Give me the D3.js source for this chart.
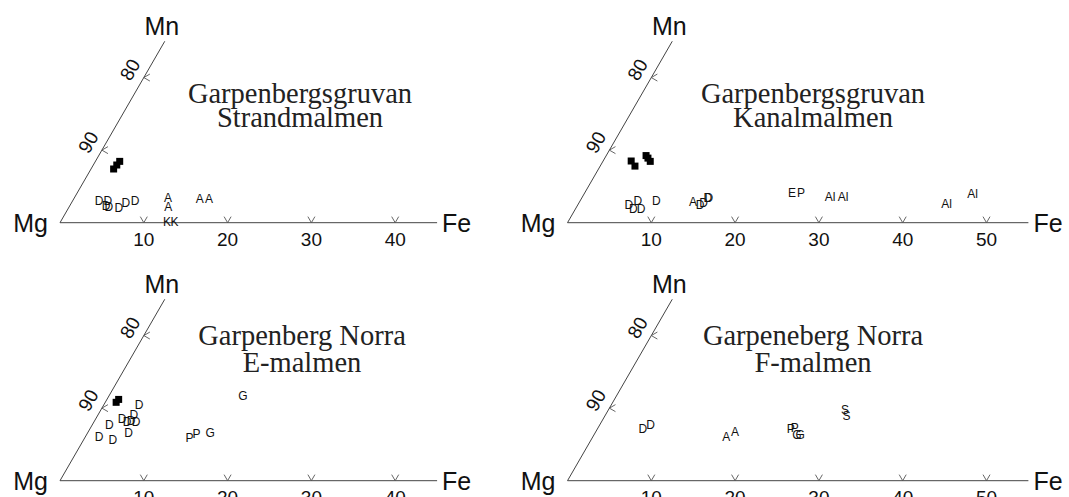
<!DOCTYPE html>
<html><head><meta charset="utf-8">
<script src="https://cdn.jsdelivr.net/npm/d3@7"></script>
<style>body{margin:0;background:#fff}svg{display:block}</style>
</head><body>
<script>
// ---- DATA ----
const titles1 = ["Garpenbergsgruvan","Garpenbergsgruvan","Garpenberg Norra","Garpeneberg Norra"];
const titles2 = ["Strandmalmen","Kanalmalmen","E-malmen","F-malmen"];
const feTicksA = [10,20,30,40];
const feTicksB = [10,20,30,40,50];
const mgTicks = [90,80];
const cornerLabels = ["Mg","Fe","Mn"];

// Strandmalmen
const strandSqFe = [2.7,2.8,2.9];
const strandSqMn = [7.4,7.95,8.45];
const strandMark = ["D","D","D","D","D","D","D","A","A","A","A","K","K"];
const strandFe   = [3.1,4.2,4.35,4.7,6.0,6.5,7.4,11.2,11.8,15.0,16.1,12.7,13.6];
const strandMn   = [3.1,3.0,2.3,2.25,2.05,2.7,3.1,3.4,2.25,3.35,3.35,0.15,0.15];

// Kanalmalmen
const kanalSqFe = [3.35,4.15,4.75,5.65,5.15];
const kanalSqMn = [8.5,7.8,9.25,8.45,8.9];
const kanalMark = ["D","D","D","D","D","A","D","D","D","D","E","P","Al","Al","Al","Al"];
const kanalFe   = [6.1,6.9,6.9,7.8,9.1,13.55,14.6,14.9,15.05,15.15,24.75,25.8,29.55,31.1,43.9,46.3];
const kanalMn   = [2.45,3.0,1.9,1.95,3.0,2.85,2.45,2.7,3.4,3.45,4.1,4.1,3.55,3.55,2.65,4.05];

// E-malmen
const eSqFe = [1.3,1.4];
const eSqMn = [10.8,11.2];
const eMark = ["D","D","D","D","D","D","D","D","D","D","P","P","G","G"];
const eFe   = [4.2,4.3,3.15,3.95,4.35,5.0,2.0,4.85,1.65,3.5,12.5,13.05,14.6,16.0];
const eMn   = [10.5,9.05,8.5,8.1,8.25,8.15,7.75,6.65,6.0,5.6,5.9,6.5,6.65,11.65];

// F-malmen
const fSqFe = [];
const fSqMn = [];
const fMark = ["D","D","A","A","P","P","G","G","S","S"];
const fFe   = [5.4,6.05,15.9,16.6,23.1,23.5,24.2,24.6,28.25,28.8];
const fMn   = [7.2,7.7,6.1,6.8,7.1,7.25,6.35,6.35,9.75,9.0];

// ---- LAYOUT ----
const unit = 8.38; // px per percent
const SIN60 = Math.sqrt(3)/2;
const panels = [
  {ox:60,   oy:222.7, feMax:45, ticks:feTicksA, t:[300,103,127], sqFe:strandSqFe, sqMn:strandSqMn, mark:strandMark, fe:strandFe, mn:strandMn},
  {ox:567.5,oy:222.7, feMax:55, ticks:feTicksB, t:[813,103,127], sqFe:kanalSqFe, sqMn:kanalSqMn, mark:kanalMark, fe:kanalFe, mn:kanalMn},
  {ox:60,   oy:480.7, feMax:45, ticks:feTicksA, t:[302,345,372], sqFe:eSqFe, sqMn:eSqMn, mark:eMark, fe:eFe, mn:eMn},
  {ox:567.5,oy:480.7, feMax:55, ticks:feTicksB, t:[813,345,372], sqFe:fSqFe, sqMn:fSqMn, mark:fMark, fe:fFe, mn:fMn}
];
const mnEdge = 25;

const svg = d3.select("body").append("svg").attr("width",1069).attr("height",497);

panels.forEach((p,i)=>{
  const xs = d3.scaleLinear().domain([0,p.feMax]).range([p.ox, p.ox + p.feMax*unit]);
  const ys = d3.scaleLinear().domain([0,mnEdge]).range([p.oy, p.oy - mnEdge*unit*SIN60]);
  const proj = (fe,mn)=>[xs(fe + mn/2), ys(mn)];
  const g = svg.append("g");

  // axes
  const o = proj(0,0), e = proj(p.feMax,0), top = proj(0,mnEdge);
  g.append("line").attr("x1",o[0]).attr("y1",o[1]).attr("x2",e[0]).attr("y2",e[1])
    .attr("stroke","#444").attr("stroke-width",1);
  g.append("line").attr("x1",o[0]).attr("y1",o[1]).attr("x2",top[0]).attr("y2",top[1])
    .attr("stroke","#444").attr("stroke-width",1);

  // base ticks (V)
  const L = 7;
  p.ticks.forEach(t=>{
    const [x,y] = proj(t,0);
    g.append("path").attr("d",`M${x-L*0.5},${y-L*SIN60}L${x},${y}L${x+L*0.5},${y-L*SIN60}`)
      .attr("fill","none").attr("stroke","#555").attr("stroke-width",0.9);
    g.append("text").attr("x",x).attr("y",y+23).attr("text-anchor","middle")
      .attr("font-family","Liberation Sans, Arial, sans-serif").attr("font-size",19).attr("fill","#111").text(t);
  });
  // Mg ticks on left edge (<)
  mgTicks.forEach(t=>{
    const [x,y] = proj(0,100-t);
    g.append("path").attr("d",`M${x+L*SIN60},${y-L*0.5}L${x},${y}L${x+L*SIN60},${y+L*0.5}`)
      .attr("fill","none").attr("stroke","#555").attr("stroke-width",0.9);
    const lx = x - 16*SIN60, ly = y - 16*0.5;
    g.append("text").attr("transform",`translate(${lx},${ly}) rotate(-60)`)
      .attr("text-anchor","middle").attr("dy","0.36em")
      .attr("font-family","Liberation Sans, Arial, sans-serif").attr("font-size",19).attr("fill","#111").text(t);
  });

  // corner labels
  const cf = "Liberation Sans, Arial, sans-serif";
  g.append("text").attr("x",o[0]-12).attr("y",o[1]+9).attr("text-anchor","end")
    .attr("font-family",cf).attr("font-size",25).attr("fill","#111").text(cornerLabels[0]);
  g.append("text").attr("x",e[0]+5).attr("y",e[1]+9).attr("text-anchor","start")
    .attr("font-family",cf).attr("font-size",25).attr("fill","#111").text(cornerLabels[1]);
  g.append("text").attr("x",top[0]-3).attr("y",top[1]-6).attr("text-anchor","middle")
    .attr("font-family",cf).attr("font-size",25).attr("fill","#111").text(cornerLabels[2]);

  // titles
  const tf = "Liberation Serif, Times New Roman, serif";
  g.append("text").attr("x",p.t[0]).attr("y",p.t[1]).attr("text-anchor","middle")
    .attr("font-family",tf).attr("font-size",28.5).attr("fill","#222").text(titles1[i]);
  g.append("text").attr("x",p.t[0]).attr("y",p.t[2]).attr("text-anchor","middle")
    .attr("font-family",tf).attr("font-size",28.5).attr("fill","#222").text(titles2[i]);

  // filled squares
  const S = 7;
  p.sqFe.forEach((fe,k)=>{
    const [x,y] = proj(fe,p.sqMn[k]);
    g.append("rect").attr("x",x-S/2).attr("y",y-S/2).attr("width",S).attr("height",S).attr("fill","#000");
  });
  // letter markers
  p.mark.forEach((m,k)=>{
    const [x,y] = proj(p.fe[k],p.mn[k]);
    g.append("text").attr("x",x).attr("y",y).attr("dy","0.36em").attr("text-anchor","middle")
      .attr("font-family",cf).attr("font-size",12).attr("fill","#111").text(m);
  });
});
</script>
</body></html>
